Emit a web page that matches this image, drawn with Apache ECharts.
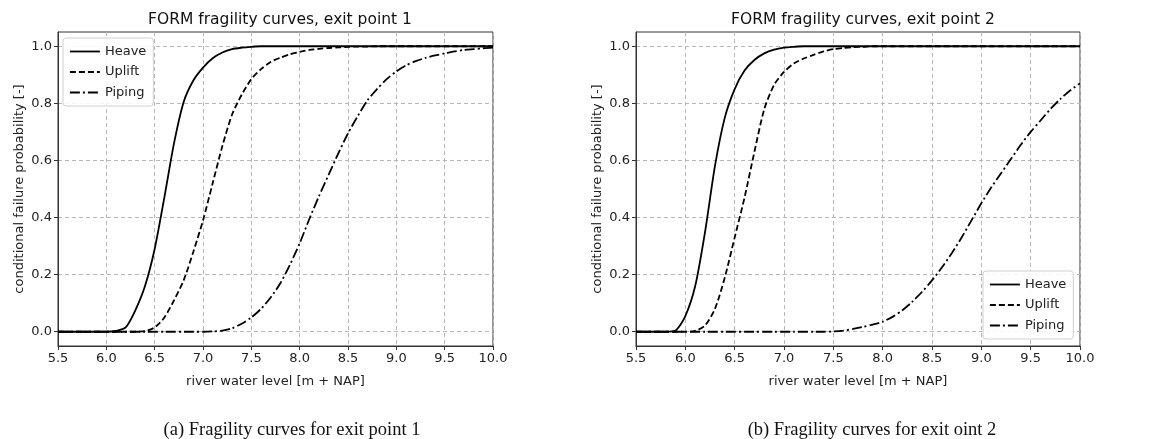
<!DOCTYPE html>
<html>
<head>
<meta charset="utf-8">
<script src="https://cdn.jsdelivr.net/npm/echarts@6/dist/echarts.min.js"></script>
<style>
  html, body { margin: 0; padding: 0; background: #fff; }
  #chart { width: 1149px; height: 439px; }
</style>
</head>
<body>
<div id="chart"></div>
<script>
// river water level [m + NAP], 5.5 .. 10.0
const waterLevel = [5.5, 5.6, 5.7, 5.8, 5.9, 6.0, 6.1, 6.2, 6.3, 6.4, 6.5, 6.6, 6.7, 6.8, 6.9, 7.0,
  7.1, 7.2, 7.3, 7.4, 7.5, 7.6, 7.7, 7.8, 7.9, 8.0, 8.1, 8.2, 8.3, 8.4, 8.5, 8.6, 8.7, 8.8, 8.9, 9.0,
  9.1, 9.2, 9.3, 9.4, 9.5, 9.6, 9.7, 9.8, 9.9, 10.0]

// exit point 1
const heave1 = [0, 0, 0, 0, 0, 0, 0.003, 0.015, 0.075, 0.16, 0.29, 0.47, 0.66, 0.805, 0.88, 0.925,
  0.958, 0.978, 0.99, 0.995, 0.998, 1, 1, 1, 1, 1, 1, 1, 1, 1, 1, 1, 1, 1, 1, 1,
  1, 1, 1, 1, 1, 1, 1, 1, 1, 1]
const uplift1 = [0, 0, 0, 0, 0, 0, 0, 0, 0, 0.002, 0.015, 0.05, 0.11, 0.18, 0.28, 0.39,
  0.52, 0.65, 0.76, 0.83, 0.885, 0.92, 0.945, 0.96, 0.972, 0.98, 0.987, 0.991, 0.994, 0.996, 0.998, 0.999, 0.999, 1, 1, 1,
  1, 1, 1, 1, 1, 1, 1, 1, 1, 1]
const piping1 = [0, 0, 0, 0, 0, 0, 0, 0, 0, 0, 0, 0, 0, 0, 0, 0,
  0.001, 0.004, 0.012, 0.028, 0.05, 0.08, 0.12, 0.17, 0.235, 0.31, 0.395, 0.475, 0.55, 0.625, 0.695, 0.755, 0.81, 0.85, 0.885, 0.912,
  0.933, 0.948, 0.959, 0.968, 0.975, 0.982, 0.987, 0.99, 0.993, 0.995]

// exit point 2
const heave2 = [0, 0, 0, 0, 0.004, 0.055, 0.16, 0.35, 0.58, 0.75, 0.85, 0.915, 0.952, 0.975, 0.988, 0.995,
  0.998, 1, 1, 1, 1, 1, 1, 1, 1, 1, 1, 1, 1, 1, 1, 1, 1, 1, 1, 1,
  1, 1, 1, 1, 1, 1, 1, 1, 1, 1]
const uplift2 = [0, 0, 0, 0, 0, 0, 0.003, 0.022, 0.08, 0.19, 0.33, 0.47, 0.63, 0.78, 0.865, 0.91,
  0.94, 0.957, 0.97, 0.982, 0.99, 0.994, 0.997, 0.998, 1, 1, 1, 1, 1, 1, 1, 1, 1, 1, 1, 1,
  1, 1, 1, 1, 1, 1, 1, 1, 1, 1]
const piping2 = [0, 0, 0, 0, 0, 0, 0, 0, 0, 0, 0, 0, 0, 0, 0, 0,
  0, 0, 0, 0, 0.001, 0.004, 0.01, 0.017, 0.025, 0.035, 0.052, 0.075, 0.105, 0.14, 0.18, 0.225, 0.275, 0.33, 0.39, 0.45,
  0.505, 0.555, 0.605, 0.655, 0.7, 0.74, 0.78, 0.815, 0.845, 0.87]

const yTicks = [0, 0.2, 0.4, 0.6, 0.8, 1.0]
const mechanisms = ['Heave', 'Uplift', 'Piping']

const font = 'DejaVu Sans'
const dashStyle = {
  Heave: 'solid',
  Uplift: [6, 3],
  Piping: [10, 3, 2, 3]
}

const pair = vals => waterLevel.map((x, i) => [x, vals[i]])

function mkSeries(name, vals, idx) {
  return {
    name: name,
    type: 'line',
    xAxisIndex: idx,
    yAxisIndex: idx,
    data: pair(vals),
    showSymbol: false,
    symbol: 'none',
    smooth: 0.25,
    lineStyle: { color: '#000', width: 1.8, type: dashStyle[name] },
    itemStyle: { color: '#000' },
    z: 5
  }
}

function mkX(idx) {
  return {
    type: 'value',
    gridIndex: idx,
    min: 5.5,
    max: 10,
    interval: 0.5,
    name: 'river water level [m + NAP]',
    nameLocation: 'middle',
    nameGap: 29,
    nameTextStyle: { fontFamily: font, fontSize: 13, color: '#222' },
    axisLine: { show: true, onZero: false, lineStyle: { color: '#333', width: 1 } },
    axisTick: { show: true, length: 4, lineStyle: { color: '#333' } },
    axisLabel: { fontFamily: font, fontSize: 13, color: '#222', margin: 6, formatter: v => v.toFixed(1) },
    splitLine: { show: true, lineStyle: { color: '#b8b8b8', type: [4, 3], width: 1 } }
  }
}

function mkY(idx) {
  return {
    type: 'value',
    gridIndex: idx,
    min: -0.05,
    max: 1.05,
    name: 'conditional failure probability [-]',
    nameLocation: 'middle',
    nameGap: 32,
    nameTextStyle: { fontFamily: font, fontSize: 13, color: '#222' },
    axisLine: { show: true, lineStyle: { color: '#333', width: 1 } },
    axisTick: { show: true, length: 4, lineStyle: { color: '#333' }, customValues: yTicks },
    axisLabel: { fontFamily: font, fontSize: 13, color: '#222', margin: 6, customValues: yTicks, formatter: v => v.toFixed(1) },
    splitLine: { show: true, lineStyle: { color: '#b8b8b8', type: [4, 3], width: 1 } }
  }
}

function mkLegend(pos) {
  return Object.assign({
    orient: 'vertical',
    data: mechanisms,
    itemWidth: 30,
    itemHeight: 13,
    itemGap: 7.5,
    padding: [7, 7, 7, 6],
    borderColor: '#d0d0d0',
    borderWidth: 1,
    borderRadius: 3,
    backgroundColor: 'rgba(255,255,255,0.85)',
    textStyle: { fontFamily: font, fontSize: 13, color: '#222' },
    itemStyle: { opacity: 0 },
    lineStyle: { width: 1.8 }
  }, pos)
}

const chart = echarts.init(document.getElementById('chart'), null, { renderer: 'canvas' })

chart.setOption({
  animation: false,
  backgroundColor: '#fff',
  title: [
    { text: 'FORM fragility curves, exit point 1', left: 275, top: 7, textAlign: 'center',
      textStyle: { fontFamily: font, fontSize: 15.5, fontWeight: 'normal', color: '#111' } },
    { text: 'FORM fragility curves, exit point 2', left: 858, top: 7, textAlign: 'center',
      textStyle: { fontFamily: font, fontSize: 15.5, fontWeight: 'normal', color: '#111' } },
    { text: '(a) Fragility curves for exit point 1', left: 287, top: 416, textAlign: 'center',
      textStyle: { fontFamily: 'Liberation Serif', fontSize: 18.5, fontWeight: 'normal', color: '#111' } },
    { text: '(b) Fragility curves for exit oint 2', left: 867, top: 416, textAlign: 'center',
      textStyle: { fontFamily: 'Liberation Serif', fontSize: 18.5, fontWeight: 'normal', color: '#111' } }
  ],
  grid: [
    { left: 58, right: 656, top: 32, bottom: 93, show: true, borderColor: '#333', borderWidth: 1, backgroundColor: 'transparent' },
    { left: 636, right: 69, top: 32, bottom: 93, show: true, borderColor: '#333', borderWidth: 1, backgroundColor: 'transparent' }
  ],
  legend: [
    mkLegend({ left: 63, top: 38 }),
    mkLegend({ left: 983, top: 271 })
  ],
  xAxis: [mkX(0), mkX(1)],
  yAxis: [mkY(0), mkY(1)],
  series: [
    mkSeries('Heave', heave1, 0),
    mkSeries('Uplift', uplift1, 0),
    mkSeries('Piping', piping1, 0),
    mkSeries('Heave', heave2, 1),
    mkSeries('Uplift', uplift2, 1),
    mkSeries('Piping', piping2, 1)
  ]
})

window.addEventListener('resize', () => {
  chart.resize()
})
</script>
</body>
</html>
